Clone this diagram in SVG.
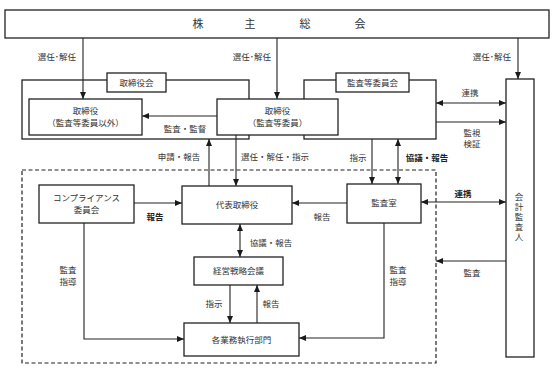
<svg xmlns="http://www.w3.org/2000/svg" width="560" height="373" viewBox="0 0 560 373">
<defs>
<marker id="ah" viewBox="0 0 7 6" refX="7" refY="3" markerWidth="7" markerHeight="6" markerUnits="userSpaceOnUse" orient="auto-start-reverse">
<path d="M0,0 L7,3 L0,6 z" fill="#1a1a1a"/>
</marker>
<style>
text{font-family:"Noto Sans CJK JP","Noto Sans CJK SC",sans-serif;font-size:8.5px;fill:#333;text-anchor:middle}
.b{font-weight:bold;fill:#222}
.big{font-size:11px}
.vt{writing-mode:vertical-rl;letter-spacing:1.5px}
.box{fill:#fff;stroke:#222;stroke-width:1.3}
.grp{fill:none;stroke:#222;stroke-width:1.3}
.dash{fill:none;stroke:#222;stroke-width:1.2;stroke-dasharray:4,2.5}
.ln{fill:none;stroke:#222;stroke-width:1.1}
.a{marker-end:url(#ah)}
.d{marker-start:url(#ah);marker-end:url(#ah)}
</style>
</defs>
<rect class="dash" x="22" y="170" width="414" height="193"/>
<g id="shareholders"><rect class="box" x="5" y="10" width="544" height="28"/><text class="big" x="198 250 305 360" y="28">株主総会</text></g>
<g id="board-group"><rect class="grp" x="22" y="80" width="227" height="59"/><rect class="box" x="107" y="73" width="59" height="19"/><text x="136.5" y="86">取締役会</text></g>
<g id="audit-committee-group"><rect class="grp" x="304" y="80" width="132" height="59"/><rect class="box" x="336" y="73" width="73" height="19"/><text x="372.5" y="86">監査等委員会</text></g>
<g id="directors-other"><rect class="box" x="29" y="99" width="113" height="36"/><text x="85.5" y="114">取締役</text><text x="85.5" y="126">（監査等委員以外）</text></g>
<g id="directors-audit"><rect class="box" x="217" y="99" width="121" height="36"/><text x="277.5" y="114">取締役</text><text x="277.5" y="126">（監査等委員）</text></g>
<g id="representative"><rect class="box" x="182" y="186" width="110" height="38"/><text x="237" y="208">代表取締役</text></g>
<g id="compliance"><rect class="box" x="39" y="185" width="95" height="38"/><text x="86.5" y="201">コンプライアンス</text><text x="86.5" y="213">委員会</text></g>
<g id="audit-office"><rect class="box" x="347" y="184" width="74" height="39"/><text x="384" y="206">監査室</text></g>
<g id="strategy"><rect class="box" x="194" y="257" width="89" height="28"/><text x="238.5" y="274">経営戦略会議</text></g>
<g id="divisions"><rect class="box" x="184" y="323" width="115" height="33"/><text x="241.5" y="342.5">各業務執行部門</text></g>
<g id="auditor"><rect class="box" x="506" y="79" width="28" height="278"/><text class="vt" x="519" y="218">会計監査人</text></g>
<g id="connectors">
<line class="ln a" x1="83" y1="38" x2="83" y2="99"/>
<line class="ln a" x1="277" y1="38" x2="277" y2="99"/>
<line class="ln a" x1="518" y1="38" x2="518" y2="79"/>
<line class="ln a" x1="217" y1="116" x2="142" y2="116"/>
<line class="ln a" x1="209" y1="186" x2="209" y2="139"/>
<line class="ln a" x1="236" y1="135" x2="236" y2="186"/>
<line class="ln a" x1="372" y1="139" x2="372" y2="184"/>
<line class="ln d" x1="398" y1="139" x2="398" y2="184"/>
<line class="ln d" x1="436" y1="103" x2="506" y2="103"/>
<line class="ln a" x1="436" y1="122" x2="506" y2="122"/>
<line class="ln a" x1="134" y1="203" x2="182" y2="203"/>
<line class="ln a" x1="347" y1="203" x2="292" y2="203"/>
<line class="ln d" x1="421" y1="202" x2="506" y2="202"/>
<line class="ln a" x1="506" y1="261" x2="436" y2="261"/>
<line class="ln d" x1="240" y1="224" x2="240" y2="257"/>
<line class="ln a" x1="230" y1="285" x2="230" y2="323"/>
<line class="ln a" x1="257" y1="323" x2="257" y2="285"/>
<polyline class="ln a" points="84,223 84,339 184,339"/>
<polyline class="ln a" points="384,223 384,338 299,338"/>
<text x="57" y="60">選任･解任</text>
<text x="252" y="60">選任･解任</text>
<text x="492" y="60">選任･解任</text>
<text x="185" y="132">監査・監督</text>
<text x="179" y="160">申請・報告</text>
<text x="275" y="160">選任・解任・指示</text>
<text x="358" y="161">指示</text>
<text class="b" x="427" y="161">協議・報告</text>
<text x="470" y="96">連携</text>
<text x="472" y="136">監視</text>
<text x="472" y="147">検証</text>
<text class="b" x="155" y="220">報告</text>
<text x="322" y="220">報告</text>
<text class="b" x="463" y="197">連携</text>
<text x="472" y="276">監査</text>
<text x="271" y="246">協議・報告</text>
<text x="214" y="307">指示</text>
<text x="271" y="307">報告</text>
<text x="68" y="273">監査</text>
<text x="68" y="285">指導</text>
<text x="398" y="273">監査</text>
<text x="398" y="285">指導</text>
</g>
</svg>
